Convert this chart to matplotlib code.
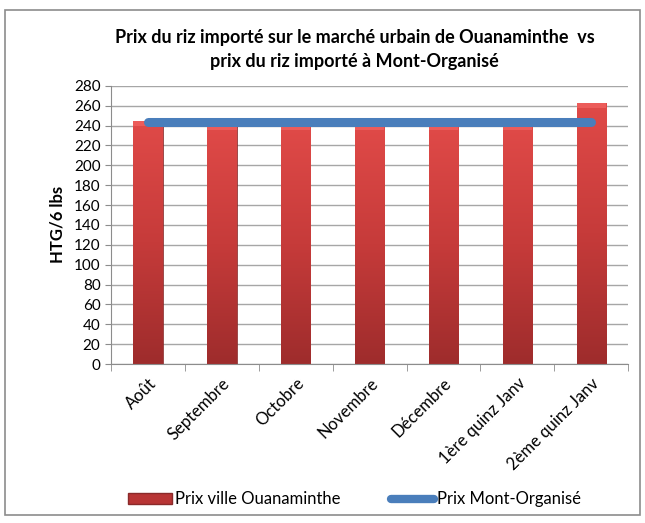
import numpy as np
import matplotlib.pyplot as plt
from matplotlib.patches import Rectangle
from matplotlib.lines import Line2D
from matplotlib.colors import LinearSegmentedColormap

plt.rcParams['font.family'] = ['Lato', 'DejaVu Sans']

mois = ['Août', 'Septembre', 'Octobre', 'Novembre', 'Décembre',
        '1ère quinz Janv', '2ème quinz Janv']
prix_ouanaminthe = [245, 240, 240, 240, 240, 240, 263]
prix_mont = [244, 244, 244, 244, 244, 244, 244]

fig = plt.figure(figsize=(6.45, 5.23), dpi=100)
# outer frame
fig.patches.append(Rectangle((0.008, 0.015), 0.984, 0.965, transform=fig.transFigure,
                             fill=False, edgecolor='#8c8c8c', linewidth=1.2))
ax = fig.add_axes([0.172, 0.304, 0.802, 0.532])

x = np.arange(len(mois))
bars = ax.bar(x, prix_ouanaminthe, width=0.4, color='#c0393b', zorder=2)

# gradient fill inside bars
cmap = LinearSegmentedColormap.from_list('rouge', ['#e04a48', '#c63b3a', '#9e2c2c'])
grad = np.linspace(0, 1, 256).reshape(-1, 1)
for b in bars:
    b.set_facecolor('none')
    b.set_edgecolor('#8a2a2a')
    b.set_linewidth(0.6)
    x0, w, h = b.get_x(), b.get_width(), b.get_height()
    im = ax.imshow(grad, cmap=cmap, aspect='auto', extent=[x0, x0 + w, 0, h],
                   zorder=2, origin='upper')
    im.set_clip_path(b)
    ax.add_patch(Rectangle((x0, h - 5), w, 5, color='#ec5c5a', zorder=2.5, linewidth=0))

ax.plot(x, prix_mont, color='#4a7ebb', linewidth=6.5, solid_capstyle='round', zorder=3)

ax.set_xlim(-0.5, len(mois) - 0.5)
ax.set_ylim(0, 280)
ax.set_yticks(np.arange(0, 281, 20))
ax.yaxis.grid(True, color='#a6a6a6', linewidth=1)
ax.set_axisbelow(True)
ax.set_xticks(x)
ax.set_xticklabels(mois, rotation=45, ha='right', rotation_mode='anchor', fontsize=12)
ax.tick_params(axis='x', length=0, pad=8)
ax.set_xticks(np.arange(-0.5, len(mois)), minor=True)
ax.tick_params(axis='x', which='minor', length=5, color='#8c8c8c')
ax.tick_params(axis='y', labelsize=11, length=4, color='#8c8c8c')
for s in ['top', 'right']:
    ax.spines[s].set_visible(False)
for s in ['left', 'bottom']:
    ax.spines[s].set_color('#8c8c8c')

ax.set_ylabel('HTG/6 lbs', fontsize=12, fontweight='bold', labelpad=6)
fig.text(0.55, 0.905, 'Prix du riz importé sur le marché urbain de Ouanaminthe  vs\n'
         'prix du riz importé à Mont-Organisé', ha='center', va='center',
         fontsize=13, fontweight='bold', linespacing=1.5)

handles = [Rectangle((0, 0), 1, 1, facecolor='#b83535', edgecolor='#8a2a2a'),
           Line2D([0], [0], color='#4a7ebb', linewidth=6, solid_capstyle='round')]
fig.legend(handles, ['Prix ville Ouanaminthe', 'Prix Mont-Organisé'], loc='center',
           bbox_to_anchor=(0.55, 0.045), ncol=2, frameon=False, fontsize=12,
           handlelength=2.6, handletextpad=0.2, columnspacing=3)

fig.savefig('out.png', dpi=100)
